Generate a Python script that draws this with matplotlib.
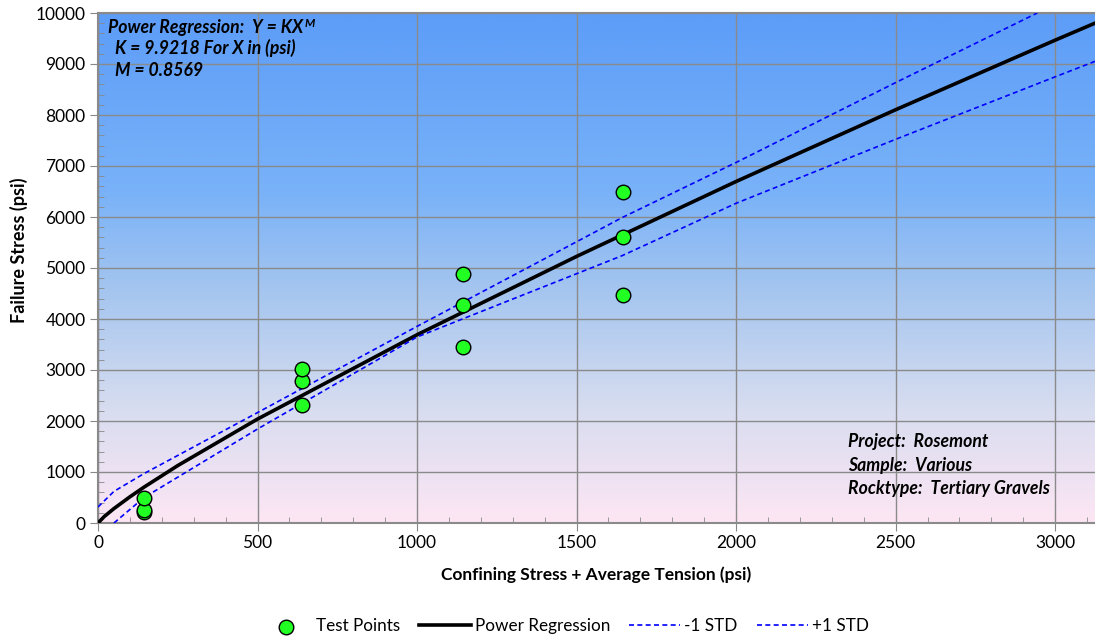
import numpy as np
import matplotlib.pyplot as plt
from matplotlib.ticker import MultipleLocator
from matplotlib.colors import LinearSegmentedColormap

# test points (psi)
test_x = [144, 144, 144, 640, 640, 640, 1144, 1144, 1144, 1644, 1644, 1644]
test_y = [220, 260, 500, 2320, 2780, 3010, 3460, 4280, 4880, 4480, 5610, 6490]

# power regression Y = K * X^M, curve
reg_x = [0, 20, 50, 100, 144, 250, 500, 1000, 1500, 2000, 2500, 3000, 3125]
reg_y = [0, 129, 283, 513, 702, 1126, 2038, 3691, 5227, 6696, 8103, 9467, 9801]

# -1 / +1 standard deviation lines
lo_x = [50, 144, 500, 1000, 1644, 2000, 2500, 3000, 3125]
lo_y = [0, 498, 1843, 3647, 5245, 6269, 7523, 8748, 9052]
hi_x = [0, 50, 144, 500, 1000, 1644, 2000, 2500, 2944]
hi_y = [314, 620, 968, 2165, 3855, 5992, 7069, 8635, 10000]

plt.rcParams['font.family'] = ['Lato', 'DejaVu Sans']

fig = plt.figure(figsize=(10.95, 6.39), dpi=100)
ax = fig.add_axes([98 / 1095, 1 - 523 / 639, 1 - 98 / 1095, (523 - 13) / 639])

# plot area gradient background (blue on top, pink at the bottom)
grad = LinearSegmentedColormap.from_list(
    'bg', [(0.0, '#5d9df8'), (0.35, '#79b2f8'), (0.55, '#a6c6ef'),
           (0.78, '#d8ddf0'), (1.0, '#fde6f4')])
ax.imshow(np.linspace(0, 1, 256).reshape(-1, 1), cmap=grad, aspect='auto',
          extent=[0, 3125, 0, 10000], origin='upper', zorder=0)

ax.set_xlim(0, 3125)
ax.set_ylim(0, 10000)

ax.xaxis.set_major_locator(MultipleLocator(500))
ax.xaxis.set_minor_locator(MultipleLocator(100))
ax.yaxis.set_major_locator(MultipleLocator(1000))
ax.yaxis.set_minor_locator(MultipleLocator(200))
ax.tick_params(which='major', direction='out', length=6, color='#888888',
               labelsize=12.5, pad=3)
ax.tick_params(which='minor', direction='in', length=4, color='#888888')
ax.grid(True, which='major', color='#8a8a8a', linewidth=1.0, zorder=1)

for side in ['left', 'bottom', 'top']:
    ax.spines[side].set_color('#8a8a8a')
    ax.spines[side].set_linewidth(1.5)
ax.spines['right'].set_visible(False)

ax.plot(reg_x, reg_y, color='black', linewidth=2.6, zorder=3, label='Power Regression')
ax.plot(lo_x, lo_y, color='#0000ff', linewidth=1.2, dashes=(3, 2), zorder=3, label='-1 STD')
ax.plot(hi_x, hi_y, color='#0000ff', linewidth=1.2, dashes=(3, 2), zorder=3, label='+1 STD')
ax.scatter(test_x, test_y, s=110, color='#22ff22', edgecolor='black', linewidth=1.0,
           zorder=4, label='Test Points')

ax.set_xlabel('Confining Stress + Average Tension (psi)', fontsize=12.5, fontweight='bold')
ax.set_ylabel('Failure Stress (psi)', fontsize=13, fontweight='bold')
ax.xaxis.set_label_coords(0.5, -0.085)
ax.yaxis.set_label_coords(-0.07, 0.535)

# annotations
txt_kw = dict(transform=ax.transAxes, fontsize=12.7, fontweight='bold', style='italic',
              va='baseline', ha='left', zorder=5)
t1 = ax.text(10 / 997, 1 - 20 / 510, 'Power Regression:  Y = KX', **txt_kw)
ax.text(17 / 997, 1 - 41 / 510, 'K = 9.9218 For X in (psi)', **txt_kw)
ax.text(17 / 997, 1 - 63 / 510, 'M = 0.8569', **txt_kw)

ax.text(750 / 997, 1 - 434 / 510, 'Project:  Rosemont', **txt_kw)
ax.text(750 / 997, 1 - 458 / 510, 'Sample:  Various', **txt_kw)
ax.text(750 / 997, 1 - 481 / 510, 'Rocktype:  Tertiary Gravels', **txt_kw)

fig.canvas.draw()
bb = t1.get_window_extent().transformed(ax.transAxes.inverted())
ax.text(bb.x1 + 0.001, 1 - 14 / 510, 'M', transform=ax.transAxes, fontsize=8.5,
        fontweight='bold', style='italic', va='baseline', ha='left', zorder=5)

handles, labels = ax.get_legend_handles_labels()
order = [3, 0, 1, 2]
fig.legend([handles[i] for i in order], [labels[i] for i in order], loc='center',
           bbox_to_anchor=(565 / 1095, 1 - 626 / 639), ncol=4, frameon=False,
           fontsize=12.3, handlelength=3.0, columnspacing=1.1, handletextpad=0.25)

fig.savefig('out.png', dpi=100)
